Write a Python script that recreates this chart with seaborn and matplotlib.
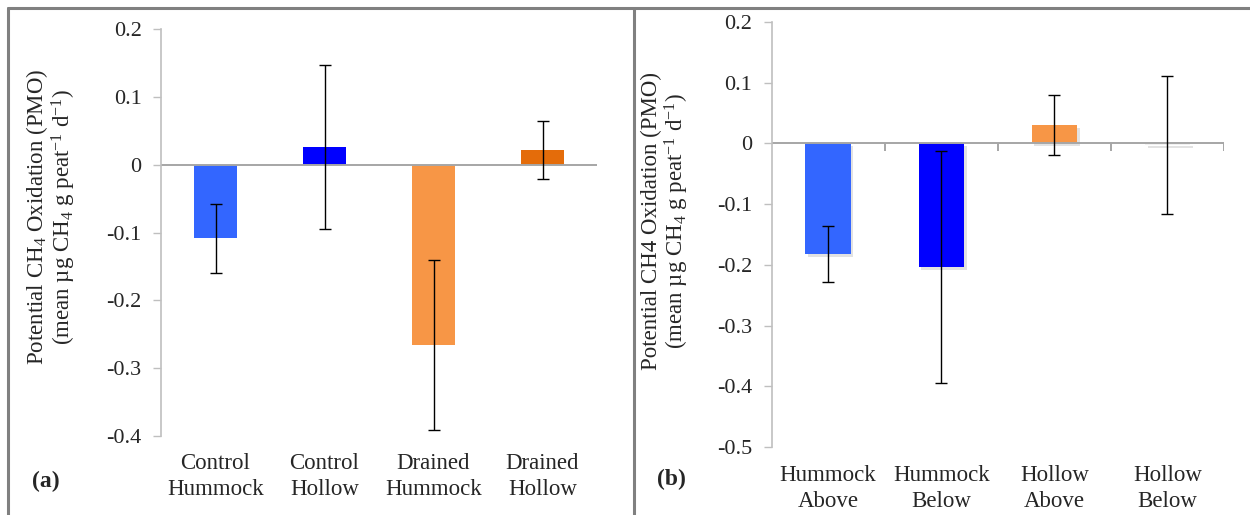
import numpy as np
import pandas as pd
import matplotlib
matplotlib.use("Agg")
import matplotlib.pyplot as plt
import seaborn as sns
from matplotlib import patheffects as pe
from matplotlib.lines import Line2D

# ---------------- data ----------------
cats_a = ["Control\nHummock", "Control\nHollow", "Drained\nHummock", "Drained\nHollow"]
vals_a = [-0.108, 0.026, -0.266, 0.022]
err_a = [0.051, 0.121, 0.125, 0.043]
colors_a = ["#3366FF", "#0000FF", "#F79646", "#E46C0A"]
yticks_a = [0.2, 0.1, 0.0, -0.1, -0.2, -0.3, -0.4]

cats_b = ["Hummock\nAbove", "Hummock\nBelow", "Hollow\nAbove", "Hollow\nBelow"]
vals_b = [-0.182, -0.204, 0.030, -0.003]
err_b = [0.046, 0.191, 0.049, 0.114]
colors_b = ["#3366FF", "#0000FF", "#F79646", "#F2F2F2"]
yticks_b = [0.2, 0.1, 0.0, -0.1, -0.2, -0.3, -0.4, -0.5]

ylabel_a = "Potential CH$_4$ Oxidation (PMO)\n(mean µg CH$_4$ g peat$^{\\mathregular{-1}}$ d$^{\\mathregular{-1}}$)"
ylabel_b = "Potential CH4 Oxidation (PMO)\n(mean µg CH$_4$ g peat$^{\\mathregular{-1}}$ d$^{\\mathregular{-1}}$)"

# ---------------- style ----------------
sns.set_style("white")
plt.rcParams["font.family"] = ["Liberation Serif", "DejaVu Serif"]
plt.rcParams["mathtext.fontset"] = "custom"
plt.rcParams["mathtext.rm"] = "Liberation Serif"
plt.rcParams["mathtext.it"] = "Liberation Serif:italic"
plt.rcParams["mathtext.bf"] = "Liberation Serif:bold"
plt.rcParams["axes.unicode_minus"] = False

W, H = 1250, 515
fig = plt.figure(figsize=(W / 100, H / 100), dpi=100)
fig.patch.set_facecolor("white")

AXIS_GREY = "#BFBFBF"
ZERO_GREY = "#A6A6A6"


def fx(px):
    return px / W


def fy(py):
    return 1 - py / H


def panel(rect, cats, vals, errs, colors, yticks, ylim, shadow, boundary_ticks, tick_pad):
    ax = fig.add_axes(rect)
    df = pd.DataFrame({"cat": cats, "val": vals})
    sns.barplot(data=df, x="cat", y="val", hue="cat", palette=colors,
                order=cats, hue_order=cats, width=0.4, errorbar=None,
                legend=False, ax=ax, saturation=1, linewidth=0)
    if shadow:
        for p in ax.patches:
            p.set_path_effects([pe.SimplePatchShadow(offset=(2, -2), shadow_rgbFace="#7f7f7f", alpha=0.22),
                                pe.Normal()])
    ax.axhline(0, color=ZERO_GREY, lw=1.4, zorder=1.5)
    x = np.arange(len(cats))
    ax.errorbar(x, vals, yerr=errs, fmt="none", ecolor="black", elinewidth=1.0,
                capsize=4, capthick=1.0, zorder=5)
    if boundary_ticks:
        b = np.arange(len(cats) + 1) - 0.5
        span = ylim[1] - ylim[0]
        ax.vlines(b[1:], -0.012 * span / 0.7, 0, color=ZERO_GREY, lw=1.4, zorder=1.5)
    ax.set_xlim(-0.5, len(cats) - 0.5)
    ax.set_ylim(*ylim)
    ax.set_yticks(yticks)
    ax.set_yticklabels([f"{t:g}" for t in yticks], fontsize=16)
    ax.set_xticks(x)
    ax.set_xticklabels(cats, fontsize=16.5, linespacing=1.32)
    ax.tick_params(axis="x", length=0, pad=tick_pad)
    ax.tick_params(axis="y", length=6, width=1, color=AXIS_GREY, pad=8, direction="out", left=True)
    ax.set_xlabel("")
    ax.set_ylabel("")
    for s in ["top", "right", "bottom"]:
        ax.spines[s].set_visible(False)
    ax.spines["left"].set_color(AXIS_GREY)
    ax.spines["left"].set_linewidth(1.2)
    ax.patch.set_alpha(0)
    return ax


# panel (a)
ax_a = panel([fx(161), fy(436), fx(597) - fx(161), fy(29.3) - fy(436)],
             cats_a, vals_a, err_a, colors_a, yticks_a, (-0.4, 0.2),
             shadow=False, boundary_ticks=False, tick_pad=12)
# panel (b)
ax_b = panel([fx(771.5), fy(447), fx(1224) - fx(771.5), fy(22) - fy(447)],
             cats_b, vals_b, err_b, colors_b, yticks_b, (-0.5, 0.2),
             shadow=True, boundary_ticks=True, tick_pad=13)

# y labels
fig.text(fx(51), fy(217), ylabel_a, rotation=90, ha="center", va="center",
         multialignment="center", fontsize=16.5, linespacing=1.02)
fig.text(fx(666), fy(221), ylabel_b, rotation=90, ha="center", va="center",
         multialignment="center", fontsize=16.5, linespacing=1.02)

# panel letters
fig.text(fx(46), fy(481), "(a)", ha="center", va="center", fontsize=17, fontweight="bold")
fig.text(fx(671), fy(479), "(b)", ha="center", va="center", fontsize=17, fontweight="bold")

# frame
BORDER = "#808080"
fig.add_artist(Line2D([fx(7.5), 1.0], [fy(7.5), fy(7.5)], color=BORDER, lw=2.2, transform=fig.transFigure))
fig.add_artist(Line2D([fx(7.5), fx(7.5)], [fy(7.5), 0.0], color=BORDER, lw=2.2, transform=fig.transFigure))
fig.add_artist(Line2D([fx(633.5), fx(633.5)], [fy(7.5), 0.0], color=BORDER, lw=2.2, transform=fig.transFigure))

fig.savefig("out.png", dpi=100, facecolor="white")
